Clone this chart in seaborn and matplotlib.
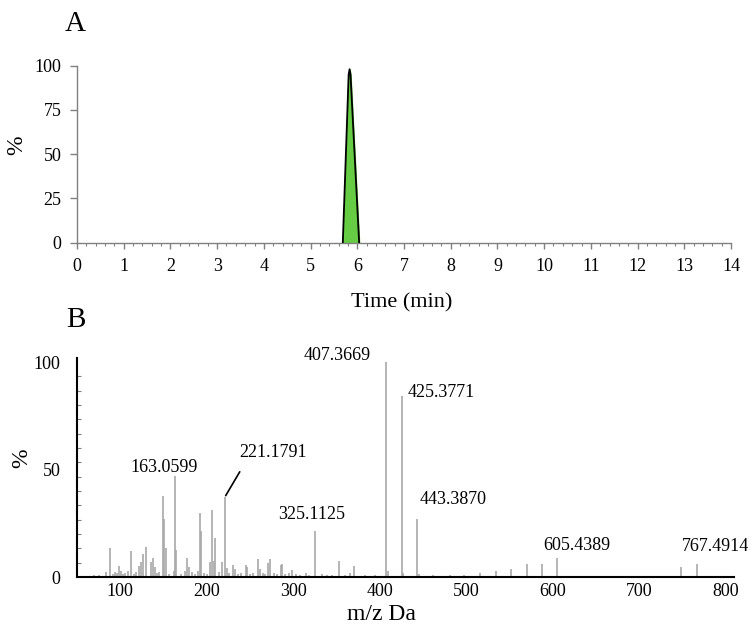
import numpy as np
import pandas as pd
import matplotlib
matplotlib.use('Agg')
import matplotlib.pyplot as plt
import seaborn as sns
from matplotlib.ticker import MultipleLocator, FixedLocator

# Panel A: extracted ion chromatogram
time_min = [5.69, 5.815, 5.835, 5.855, 6.04]
intensity_pct = [0, 95, 98, 95, 0]

# Panel B: MS/MS spectrum (m/z, relative abundance %)
mz = [70, 76, 83.8, 88.4, 92, 94, 96, 98.5, 100.5, 103, 106, 109, 112, 116, 118,
      122, 124, 126.6, 130, 136, 138, 139.8, 143, 145, 149, 150.6, 152.4, 156,
      161.7, 164, 163.0599, 170, 175, 177, 179, 183, 186, 190, 192, 193.4, 197,
      200, 204, 206, 208.3, 210, 214, 217.6, 221.1791, 223.4, 226, 231, 233, 236,
      240, 245, 247, 250, 254, 259.3, 261.2, 265, 268, 271.2, 273.2, 278, 281,
      285.5, 287, 291, 295, 299, 303, 308, 315, 318, 325.1125, 333, 339, 345,
      353, 360, 366.2, 370.8, 383, 395, 407.3669, 409.5, 425.3771, 427.5,
      443.3870, 445.5, 462, 481, 498, 516.7, 534.4, 552.2, 570, 588.4,
      605.4389, 749, 767.4914]
rel_abund = [1, 0.8, 2.5, 13.6, 1.5, 2.5, 2, 5, 3, 1.5, 2, 3, 12, 1.5, 2.5,
             5, 7, 10.9, 14, 7, 9, 4.5, 2, 2.5, 37.8, 27, 13.4, 1.5,
             3, 12.5, 47, 1.5, 3, 9, 4.6, 2.5, 1.5, 3, 29.6, 21.5, 2,
             1.5, 7, 31, 7.6, 18, 2.5, 7, 37.3, 4, 2, 5.5, 3.5, 1.5,
             2, 5.6, 4.5, 1.5, 2, 8.5, 3.7, 2, 1.5, 6.5, 8.5, 2, 1.5,
             5.5, 6, 1.5, 2, 3.2, 1.5, 1, 2, 1, 21.5, 1.5, 1, 1,
             7.6, 1, 1.7, 5.3, 0.8, 0.7, 100, 3, 84.2, 2,
             27, 1.5, 0.8, 1, 1, 1.7, 2.6, 3.9, 6, 6,
             9, 4.8, 6]
label_mz = [163.0599, 221.1791, 325.1125, 407.3669, 425.3771, 443.3870, 605.4389, 767.4914]
label_abund = [47, 37.3, 21.5, 100, 84.2, 27, 9, 6]
label_text = ['163.0599', '221.1791', '325.1125', '407.3669', '425.3771', '443.3870', '605.4389', '767.4914']

sns.set_theme(style='white')
plt.rcParams['font.family'] = ['Liberation Serif', 'DejaVu Serif']
plt.rcParams['text.color'] = 'black'
plt.rcParams['axes.labelcolor'] = 'black'
plt.rcParams['xtick.color'] = 'black'
plt.rcParams['ytick.color'] = 'black'

fig = plt.figure(figsize=(7.56, 6.34), dpi=100)
W, H = 756, 634
axA = fig.add_axes([77 / W, 1 - 242.7 / H, 654 / W, 177 / H])
axB = fig.add_axes([77 / W, 1 - 577 / H, 657 / W, 219 / H])

# ---- Panel A ----
grey = '#808080'
axA.fill_between(time_min, intensity_pct, color='#66cc44', zorder=2)
sns.lineplot(x=time_min, y=intensity_pct, ax=axA, color='black', lw=1.3, sort=False, zorder=3)
axA.set_xlim(0, 14)
axA.set_ylim(0, 100)
axA.xaxis.set_major_locator(MultipleLocator(1))
axA.xaxis.set_minor_locator(MultipleLocator(0.2))
axA.set_yticks([0, 25, 50, 75, 100])
for s in ['top', 'right']:
    axA.spines[s].set_visible(False)
for s in ['left', 'bottom']:
    axA.spines[s].set_color(grey)
    axA.spines[s].set_linewidth(1)
axA.tick_params(axis='x', which='major', direction='out', length=4, width=1, color=grey,
                labelcolor='black', labelsize=13, pad=7, bottom=True)
axA.tick_params(axis='x', which='minor', direction='out', length=2.5, width=0.8, color=grey, bottom=True)
axA.tick_params(axis='y', which='major', direction='out', length=5, width=1, color=grey,
                labelcolor='black', labelsize=13, pad=6, left=True)
axA.set_xlabel('Time (min)', fontsize=16)
axA.xaxis.set_label_coords(0.497, -0.284)
axA.set_ylabel('%', fontsize=17)
axA.yaxis.set_label_coords(-0.076, 0.55)

# ---- Panel B ----
axB.vlines(mz, 0, rel_abund, color='#a8a8a8', lw=1.2, zorder=2)
axB.set_xlim(50, 810)
axB.set_ylim(0, 101.9)
axB.set_xticks([100, 200, 300, 400, 500, 600, 700, 800])
axB.set_yticks([0, 50, 100])
axB.yaxis.set_minor_locator(FixedLocator(np.linspace(0, 100, 16)))
for s in ['top', 'right']:
    axB.spines[s].set_visible(False)
for s in ['left', 'bottom']:
    axB.spines[s].set_color('black')
    axB.spines[s].set_linewidth(1.5)
    axB.spines[s].set_zorder(3)
axB.tick_params(axis='x', which='major', length=0, labelsize=13, pad=4)
axB.tick_params(axis='y', which='major', length=0, labelsize=13, pad=12)
axB.tick_params(axis='y', which='minor', direction='in', length=3, width=0.8, color=grey, left=True)
axB.set_xlabel('m/z Da', fontsize=17)
axB.xaxis.set_label_coords(0.463, -0.125)
axB.set_ylabel('%', fontsize=17)
axB.yaxis.set_label_coords(-0.068, 0.543)

offsets = [(-11, 8), (48, 44), (-3, 16), (-49, 7), (40, 4), (36, 19), (20, 12), (18, 18)]
for m, a, t, off in zip(label_mz, label_abund, label_text, offsets):
    if t == '221.1791':
        axB.annotate(t, xy=(m, a), xytext=off, textcoords='offset pixels',
                     ha='center', va='center', fontsize=13,
                     arrowprops=dict(arrowstyle='-', color='black', lw=1.2,
                                     relpos=(0.1, 0), shrinkA=6, shrinkB=1))
    else:
        axB.annotate(t, xy=(m, a), xytext=off, textcoords='offset pixels',
                     ha='center', va='center', fontsize=13)

fig.text(75 / W, 1 - 24 / H, 'A', fontsize=21, ha='center', va='center')
fig.text(76 / W, 1 - 320 / H, 'B', fontsize=21, ha='center', va='center')

fig.savefig('out.png', dpi=100)
